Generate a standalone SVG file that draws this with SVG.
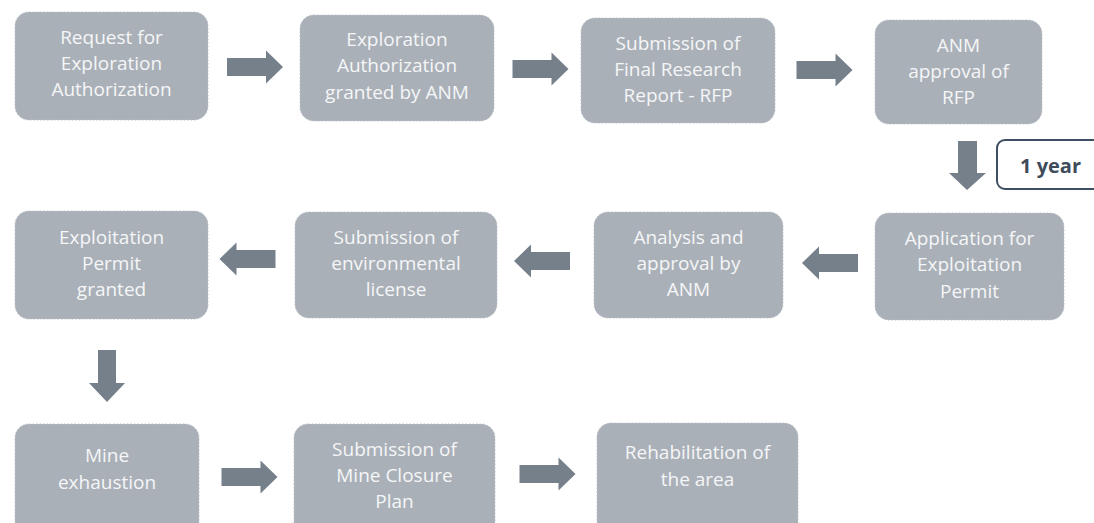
<svg xmlns="http://www.w3.org/2000/svg" xmlns:xlink="http://www.w3.org/1999/xlink" width="1094" height="523" viewBox="0 0 1094 523">
<style>
.box{fill:#aab0b8;stroke:#bcc0c6;stroke-width:1;stroke-dasharray:1.5 2}
.t{font-family:"Open Sans","Liberation Sans",sans-serif;font-size:19px;fill:#f5f6f7;text-anchor:middle}
.arr{fill:#76808b}
.yr{font-family:"Open Sans","Liberation Sans",sans-serif;font-size:20px;font-weight:bold;fill:#3e4b5b}
</style>
<defs>
<path id="ar" d="M-28,-9 H11 V-16.5 L28,0 L11,16.5 V9 H-28 Z"/>
</defs>
<rect width="1094" height="523" fill="#ffffff"/>
<g id="connectors" class="arr">
<use xlink:href="#ar" transform="translate(255,67)"/>
<use xlink:href="#ar" transform="translate(540.5,69)"/>
<use xlink:href="#ar" transform="translate(824.5,70)"/>
<path d="M958,141 H977 V173 H986 L967,190 L949,173 H958 Z"/>
<use xlink:href="#ar" transform="translate(830,263) rotate(180)"/>
<use xlink:href="#ar" transform="translate(542,261) rotate(180)"/>
<use xlink:href="#ar" transform="translate(247.5,259) rotate(180)"/>
<path d="M98,350 H116 V383 H125 L107,402 L89,383 H98 Z"/>
<use xlink:href="#ar" transform="translate(249.5,477)"/>
<use xlink:href="#ar" transform="translate(547.5,474)"/>
</g>
<g id="label-1year">
<rect x="997" y="140" width="110" height="49" rx="8" fill="#ffffff" stroke="#3e4f63" stroke-width="2"/>
<text class="yr" x="1020" y="173">1 year</text>
</g>
<g id="n1"><rect class="box" x="15" y="12" width="193" height="108" rx="14"/>
<text class="t"><tspan x="111.5" y="44">Request for</tspan><tspan x="111.5" y="70">Exploration</tspan><tspan x="111.5" y="96">Authorization</tspan></text></g>
<g id="n2"><rect class="box" x="300" y="15" width="194" height="106" rx="14"/>
<text class="t"><tspan x="397" y="46">Exploration</tspan><tspan x="397" y="72">Authorization</tspan><tspan x="397" y="99">granted by ANM</tspan></text></g>
<g id="n3"><rect class="box" x="581" y="18" width="194" height="105" rx="14"/>
<text class="t"><tspan x="678" y="50">Submission of</tspan><tspan x="678" y="76">Final Research</tspan><tspan x="678" y="102">Report - RFP</tspan></text></g>
<g id="n4"><rect class="box" x="875" y="20" width="167" height="104" rx="14"/>
<text class="t"><tspan x="958.5" y="52">ANM</tspan><tspan x="958.5" y="78">approval of</tspan><tspan x="958.5" y="104">RFP</tspan></text></g>
<g id="n5"><rect class="box" x="875" y="213" width="189" height="107" rx="14"/>
<text class="t"><tspan x="969.5" y="245">Application for</tspan><tspan x="969.5" y="271">Exploitation</tspan><tspan x="969.5" y="298">Permit</tspan></text></g>
<g id="n6"><rect class="box" x="594" y="212" width="189" height="106" rx="14"/>
<text class="t"><tspan x="688.5" y="244">Analysis and</tspan><tspan x="688.5" y="270">approval by</tspan><tspan x="688.5" y="296">ANM</tspan></text></g>
<g id="n7"><rect class="box" x="295" y="212" width="202" height="106" rx="14"/>
<text class="t"><tspan x="396" y="244">Submission of</tspan><tspan x="396" y="270">environmental</tspan><tspan x="396" y="296">license</tspan></text></g>
<g id="n8"><rect class="box" x="15" y="211" width="193" height="108" rx="14"/>
<text class="t"><tspan x="111.5" y="244">Exploitation</tspan><tspan x="111.5" y="270">Permit</tspan><tspan x="111.5" y="296">granted</tspan></text></g>
<g id="n9"><rect class="box" x="15" y="424" width="184" height="115" rx="14"/>
<text class="t"><tspan x="107" y="462">Mine</tspan><tspan x="107" y="489">exhaustion</tspan></text></g>
<g id="n10"><rect class="box" x="294" y="424" width="201" height="115" rx="14"/>
<text class="t"><tspan x="394.5" y="456">Submission of</tspan><tspan x="394.5" y="482">Mine Closure</tspan><tspan x="394.5" y="508">Plan</tspan></text></g>
<g id="n11"><rect class="box" x="597" y="423" width="201" height="116" rx="14"/>
<text class="t"><tspan x="697.5" y="459">Rehabilitation of</tspan><tspan x="697.5" y="486">the area</tspan></text></g>
</svg>
